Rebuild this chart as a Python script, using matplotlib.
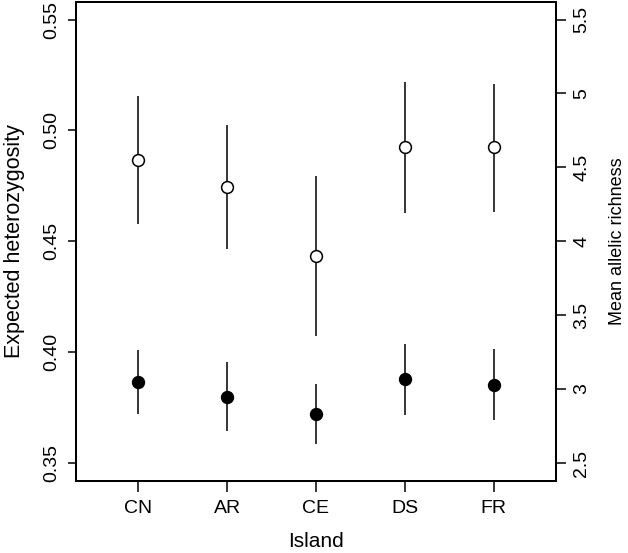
import numpy as np
import matplotlib
matplotlib.use('Agg')
import matplotlib.pyplot as plt

plt.rcParams['font.family'] = ['Liberation Sans', 'DejaVu Sans']

# data
islands = ['CN', 'AR', 'CE', 'DS', 'FR']
he_mean = [0.4865, 0.4745, 0.4432, 0.4923, 0.4923]
he_upper = [0.5155, 0.5023, 0.4794, 0.5218, 0.5210]
he_lower = [0.4577, 0.4467, 0.4073, 0.4628, 0.4634]
ar_mean = [3.049, 2.948, 2.828, 3.065, 3.027]
ar_upper = [3.266, 3.184, 3.031, 3.308, 3.268]
ar_lower = [2.831, 2.716, 2.628, 2.824, 2.788]

x = np.arange(1, len(islands) + 1)

fig = plt.figure(figsize=(6.28, 5.53), dpi=100)
ax = fig.add_axes([76 / 628, 1 - 480.7 / 553, 480 / 628, 480 / 553 - 0.002])
ax2 = ax.twinx()

he_err = [np.array(he_mean) - np.array(he_lower), np.array(he_upper) - np.array(he_mean)]
ar_err = [np.array(ar_mean) - np.array(ar_lower), np.array(ar_upper) - np.array(ar_mean)]

ax.errorbar(x, he_mean, yerr=he_err, fmt='o', color='black', mfc='white',
            mec='black', ms=8.5, mew=1.1, elinewidth=1.1, capsize=0)
ax2.errorbar(x, ar_mean, yerr=ar_err, fmt='o', color='black', mfc='black',
             mec='black', ms=8.5, mew=1.1, elinewidth=1.1, capsize=0)

ax.set_xlim(0.3, 5.7)
ax.set_ylim(0.342, 0.558)
ax2.set_ylim(2.38, 5.62)

ax.set_xticks(x)
ax.set_xticklabels(islands)
ax.set_yticks([0.35, 0.40, 0.45, 0.50, 0.55])
ax.set_yticklabels(['0.35', '0.40', '0.45', '0.50', '0.55'])
ax2.set_yticks([2.5, 3, 3.5, 4, 4.5, 5, 5.5])
ax2.set_yticklabels(['2.5', '3', '3.5', '4', '4.5', '5', '5.5'])

ax.tick_params(axis='x', length=8, width=1.1, labelsize=14, pad=6)
ax.tick_params(axis='y', length=6, width=1.1, labelsize=14, pad=5, labelrotation=90)
ax2.tick_params(axis='y', length=7.5, width=1.1, labelsize=14, pad=5, labelrotation=90)
for lab in ax.get_yticklabels() + ax2.get_yticklabels():
    lab.set_va('center')

for a in (ax, ax2):
    for s in a.spines.values():
        s.set_linewidth(1.4)

ax.set_xlabel('Island', fontsize=15)
ax.xaxis.set_label_coords(0.5, -0.108)
ax.set_ylabel('Expected heterozygosity', fontsize=15.5)
ax.yaxis.set_label_coords(-0.106, 0.5)
ax2.set_ylabel('Mean allelic richness', fontsize=13, rotation=90)
ax2.yaxis.set_label_coords(1.11, 0.5)

fig.savefig('out.png', dpi=100)
